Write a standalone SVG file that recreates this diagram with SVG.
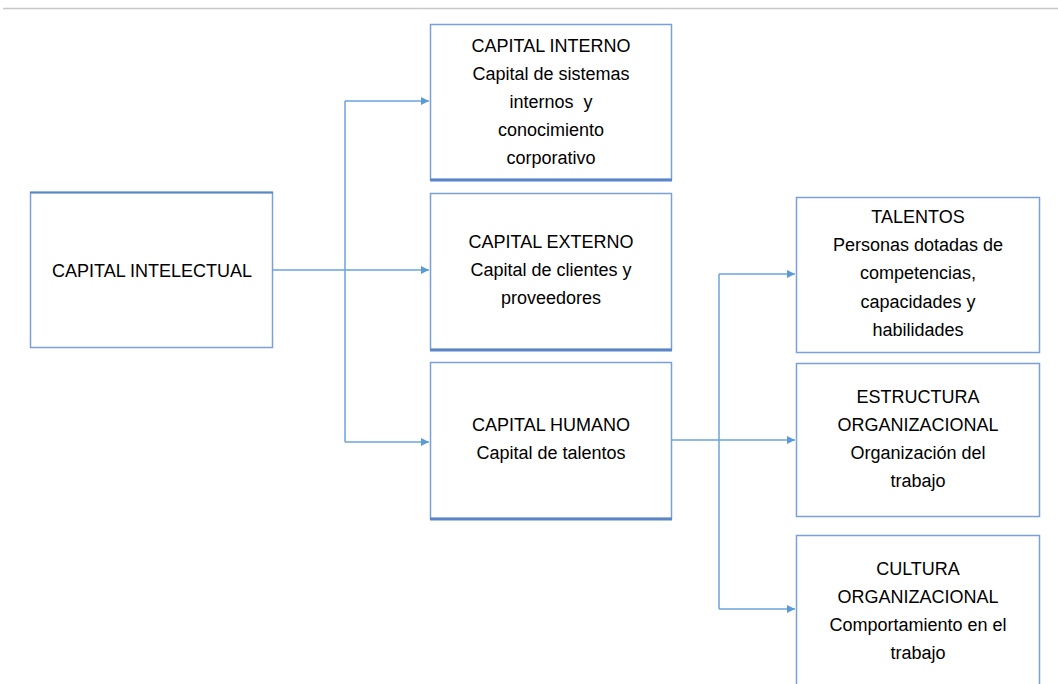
<svg xmlns="http://www.w3.org/2000/svg" width="1058" height="684" viewBox="0 0 1058 684">
<defs>
<marker id="arr" viewBox="0 0 10 10" refX="10" refY="5" markerWidth="8" markerHeight="8" markerUnits="userSpaceOnUse" orient="auto">
<path d="M0,0 L10,5 L0,10 z" fill="#5b9bd5"/>
</marker>
<style>
.box{fill:#ffffff;stroke:#7aa0dc;stroke-width:1.5}
.bot{stroke:#5a86c8;stroke-width:3}
.t{font-family:"Liberation Sans",Arial,sans-serif;font-size:18px;fill:#000;text-anchor:middle}
.c{fill:none;stroke:#6aa3dc;stroke-width:1.5}
</style>
</defs>
<rect width="1058" height="684" fill="#ffffff"/>
<line x1="3" y1="8.5" x2="1058" y2="8.5" stroke="#c8c8c8" stroke-width="1.5"/>
<g id="connectors">
<line class="c" x1="273" y1="270" x2="429" y2="270" marker-end="url(#arr)"/>
<line class="c" x1="345" y1="101" x2="345" y2="442"/>
<line class="c" x1="345" y1="101" x2="429" y2="101" marker-end="url(#arr)"/>
<line class="c" x1="345" y1="442" x2="429" y2="442" marker-end="url(#arr)"/>
<line class="c" x1="672" y1="440" x2="795" y2="440" marker-end="url(#arr)"/>
<line class="c" x1="719" y1="274" x2="719" y2="609"/>
<line class="c" x1="719" y1="274" x2="795" y2="274" marker-end="url(#arr)"/>
<line class="c" x1="719" y1="609" x2="795" y2="609" marker-end="url(#arr)"/>
</g>
<g id="capital-intelectual">
<rect class="box" x="30.5" y="192.5" width="242" height="155"/>
<line x1="30" y1="192.5" x2="273" y2="192.5" stroke="#5a86c8" stroke-width="2"/>
<text class="t" x="152" y="277">CAPITAL INTELECTUAL</text>
</g>
<g id="capital-interno">
<rect class="box" x="430.5" y="24.5" width="241" height="155"/>
<line class="bot" x1="430" y1="180" x2="672" y2="180"/>
<text class="t" x="551" y="52">CAPITAL INTERNO</text>
<text class="t" x="551" y="80">Capital de sistemas</text>
<text class="t" x="551" y="108" xml:space="preserve">internos  y</text>
<text class="t" x="551" y="136">conocimiento</text>
<text class="t" x="551" y="164">corporativo</text>
</g>
<g id="capital-externo">
<rect class="box" x="430.5" y="193.5" width="241" height="156"/>
<line class="bot" x1="430" y1="350" x2="672" y2="350"/>
<text class="t" x="551" y="248">CAPITAL EXTERNO</text>
<text class="t" x="551" y="276">Capital de clientes y</text>
<text class="t" x="551" y="304">proveedores</text>
</g>
<g id="capital-humano">
<rect class="box" x="430.5" y="362.5" width="241" height="156"/>
<line class="bot" x1="430" y1="519" x2="672" y2="519"/>
<text class="t" x="551" y="431">CAPITAL HUMANO</text>
<text class="t" x="551" y="459">Capital de talentos</text>
</g>
<g id="talentos">
<rect class="box" x="796.5" y="197.5" width="243" height="155"/>
<text class="t" x="918" y="223">TALENTOS</text>
<text class="t" x="918" y="251">Personas dotadas de</text>
<text class="t" x="918" y="279">competencias,</text>
<text class="t" x="918" y="308">capacidades y</text>
<text class="t" x="918" y="336">habilidades</text>
</g>
<g id="estructura">
<rect class="box" x="796.5" y="363.5" width="243" height="153"/>
<text class="t" x="918" y="403">ESTRUCTURA</text>
<text class="t" x="918" y="431">ORGANIZACIONAL</text>
<text class="t" x="918" y="459">Organización del</text>
<text class="t" x="918" y="487">trabajo</text>
</g>
<g id="cultura">
<rect class="box" x="796.5" y="535.5" width="243" height="160"/>
<text class="t" x="918" y="575">CULTURA</text>
<text class="t" x="918" y="603">ORGANIZACIONAL</text>
<text class="t" x="918" y="631">Comportamiento en el</text>
<text class="t" x="918" y="659">trabajo</text>
</g>
</svg>
